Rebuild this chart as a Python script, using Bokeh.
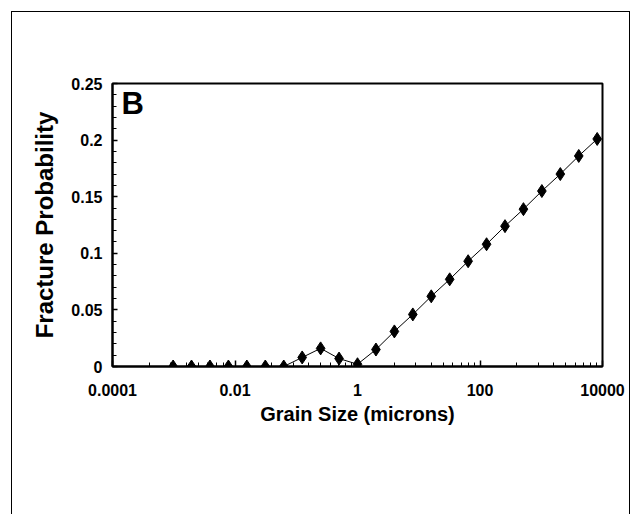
from bokeh.plotting import figure
from bokeh.models import FixedTicker, CustomJSTickFormatter, Range1d, Label, SingleIntervalTicker
from bokeh.embed import file_html
from bokeh.resources import INLINE

grain_size = [0.000977, 0.00195, 0.0039, 0.0078, 0.0156, 0.03125, 0.0625,
              0.125, 0.25, 0.5, 1, 2, 4, 8, 16, 32, 64, 128, 256, 512,
              1024, 2048, 4096, 8192]
fracture_prob = [0, 0, 0, 0, 0, 0, 0,
                 0.008, 0.016, 0.007, 0.002, 0.015, 0.031, 0.046, 0.062, 0.077,
                 0.093, 0.108, 0.124, 0.139, 0.155, 0.170, 0.186, 0.201]
x_major = [1e-4, 1e-2, 1, 1e2, 1e4]
x_minor = [100.0 ** d * k * k for d in range(-2, 2) for k in range(2, 10)]
panel_letter = "B"
x_title = "Grain Size (microns)"
y_title = "Fracture Probability"

FONT = "Liberation Sans"

p = figure(width=619, height=503, x_axis_type="log",
           x_range=Range1d(1e-4, 1e4), y_range=Range1d(0, 0.25),
           output_backend="svg", toolbar_location=None,
           min_border_left=100, min_border_right=29,
           min_border_top=71, min_border_bottom=149)
p.margin = (11, 0, 0, 11)
p.styles = {"border-top": "1px solid black", "border-left": "1px solid black",
            "border-right": "1px solid black"}

p.grid.visible = False
p.outline_line_color = "black"
p.outline_line_width = 2
p.background_fill_color = "white"
p.border_fill_color = "white"

p.line(grain_size, fracture_prob, line_color="black", line_width=1)
p.scatter(grain_size, fracture_prob, marker="diamond", size=13,
          fill_color="black", line_color="black")

xa = p.xaxis[0]
xa.ticker = FixedTicker(ticks=x_major, minor_ticks=x_minor)
xa.formatter = CustomJSTickFormatter(code="return tick.toString();")
xa.major_tick_in = 6
xa.major_tick_out = 0
xa.minor_tick_in = 4
xa.minor_tick_out = 0
xa.major_label_standoff = 17
xa.axis_label = x_title
xa.axis_label_standoff = 4

ya = p.yaxis[0]
ya.ticker = SingleIntervalTicker(interval=0.05, num_minor_ticks=5)
ya.formatter = CustomJSTickFormatter(code="return parseFloat(tick.toFixed(2)).toString();")
ya.major_tick_in = 5
ya.major_tick_out = 0
ya.minor_tick_in = 4
ya.minor_tick_out = 0
ya.major_label_standoff = 10
ya.axis_label = y_title
ya.axis_label_standoff = 10

for ax in (xa, ya):
    ax.axis_line_color = "black"
    ax.axis_line_width = 2
    ax.major_tick_line_color = "black"
    ax.major_tick_line_width = 1.5
    ax.minor_tick_line_color = "black"
    ax.minor_tick_line_width = 1
    ax.major_label_text_font = FONT
    ax.major_label_text_font_style = "bold"
    ax.major_label_text_font_size = "16px"
    ax.major_label_text_color = "black"
    ax.axis_label_text_font = FONT
    ax.axis_label_text_font_style = "bold"
    ax.axis_label_text_color = "black"
xa.axis_label_text_font_size = "20px"
ya.axis_label_text_font_size = "24px"

p.add_layout(Label(x=1.4e-4, y=0.2474, text=panel_letter, text_font=FONT,
                   text_font_style="bold", text_font_size="31px",
                   text_color="black", text_baseline="top"))

open("out.html", "w").write(file_html(p, INLINE))
